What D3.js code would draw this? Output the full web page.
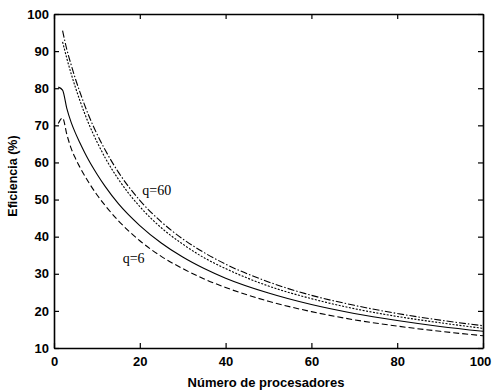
<!DOCTYPE html>
<html>
<head>
<meta charset="utf-8">
<script src="https://cdn.jsdelivr.net/npm/d3@7"></script>
<style>
  body { margin: 0; background: #fff; }
  svg { display: block; }
</style>
</head>
<body>
<div id="chart"></div>
<script>
// numero de procesadores
var procs = [1, 2, 3, 4, 5, 6, 8, 10, 12, 15, 20, 25, 30, 35, 40, 50, 60, 70, 80, 90, 100];

// eficiencia (%), top curve to bottom curve
var effQ60 = [null, 95.5, 90.4, 86.3, 82.5, 79.1, 72.9, 67.7, 63.2, 57.4, 49.8, 44.0, 39.4, 35.7, 32.6, 27.8, 24.2, 21.5, 19.3, 17.5, 16.0];
var effQ2  = [null, 92.5, 88.0, 83.9, 80.2, 76.8, 70.7, 65.6, 61.1, 55.5, 48.1, 42.4, 38.0, 34.3, 31.4, 26.7, 23.3, 20.6, 18.5, 16.8, 15.3];
var effQ3  = [80.3, 79.5, 74.5, 70.8, 67.9, 65.4, 60.8, 56.9, 53.4, 48.9, 43.0, 38.3, 34.5, 31.4, 28.8, 24.8, 21.7, 19.3, 17.4, 15.8, 14.5];
var effQ6  = [70.5, 72.0, 67.5, 63.8, 61.1, 58.8, 54.8, 51.3, 48.3, 44.3, 38.9, 34.7, 31.4, 28.6, 26.3, 22.6, 19.8, 17.6, 15.9, 14.5, 13.3];

var xTicks = [0, 20, 40, 60, 80, 100];
var yTicks = [10, 20, 30, 40, 50, 60, 70, 80, 90, 100];

var w = 492, h = 392;
var pLeft = 54, pRight = 483, pTop = 14, pBottom = 348;

var svg = d3.select("#chart")
            .append("svg")
            .attr("width", w)
            .attr("height", h);

var x = d3.scaleLinear().domain([0, 100]).range([pLeft, pRight]);
var y = d3.scaleLinear().domain([10, 100]).range([pBottom, pTop]);

var font = "'Liberation Sans', Arial, sans-serif";

// curves
var series = [
    { vals: effQ60, dash: "7,2,1.5,2" },
    { vals: effQ2,  dash: "2,1.5" },
    { vals: effQ3,  dash: null },
    { vals: effQ6,  dash: "6,3" }
];

var line = d3.line()
             .defined(function(d){ return d[1] != null; })
             .x(function(d){ return x(d[0]); })
             .y(function(d){ return y(d[1]); })
             .curve(d3.curveMonotoneX);

series.forEach(function(s){
    svg.append("path")
       .datum(procs.map(function(p, i){ return [p, s.vals[i]]; }))
       .attr("d", line)
       .attr("fill", "none")
       .attr("stroke", "#000")
       .attr("stroke-width", 1.1)
       .attr("stroke-dasharray", s.dash);
});

// box axes, ticks pointing inward like matlab
var axB = d3.axisBottom(x).tickValues(xTicks).tickSizeInner(-5).tickSizeOuter(0).tickPadding(9);
var axT = d3.axisTop(x).tickValues(xTicks).tickSizeInner(-5).tickSizeOuter(0).tickFormat("");
var axL = d3.axisLeft(y).tickValues(yTicks).tickSizeInner(-5).tickSizeOuter(0).tickPadding(5);
var axR = d3.axisRight(y).tickValues(yTicks).tickSizeInner(-5).tickSizeOuter(0).tickFormat("");

function styleAxis(g){
    g.select(".domain").attr("stroke", "#000").attr("stroke-width", 1.6);
    g.selectAll(".tick line").attr("stroke", "#000").attr("stroke-width", 1.2);
    g.selectAll(".tick text")
     .attr("fill", "#000")
     .style("font-family", font)
     .style("font-size", "13px")
     .style("font-weight", "bold");
}

var gB = svg.append("g").attr("transform", "translate(0," + pBottom + ")").call(axB).call(styleAxis);
svg.append("g").attr("transform", "translate(0," + pTop + ")").call(axT).call(styleAxis);
svg.append("g").attr("transform", "translate(" + pLeft + ",0)").call(axL).call(styleAxis);
svg.append("g").attr("transform", "translate(" + pRight + ",0)").call(axR).call(styleAxis);

// keep "100" inside the picture
gB.selectAll(".tick text").filter(function(d){ return d == 100; }).attr("dx", -3);

// titles
svg.append("text")
   .attr("x", 266)
   .attr("y", 387)
   .attr("text-anchor", "middle")
   .style("font-family", font)
   .style("font-size", "13px")
   .style("font-weight", "bold")
   .text("Número de procesadores");

svg.append("text")
   .attr("transform", "translate(17,176) rotate(-90)")
   .attr("text-anchor", "middle")
   .style("font-family", font)
   .style("font-size", "12.5px")
   .style("font-weight", "bold")
   .text("Eficiencia (%)");

// curve labels
svg.append("text")
   .attr("x", x(20.6))
   .attr("y", 195)
   .style("font-family", "'Liberation Serif', 'Times New Roman', serif")
   .style("font-size", "14px")
   .text("q=60");

svg.append("text")
   .attr("x", x(16))
   .attr("y", 263)
   .style("font-family", "'Liberation Serif', 'Times New Roman', serif")
   .style("font-size", "14px")
   .text("q=6");
</script>
</body>
</html>
